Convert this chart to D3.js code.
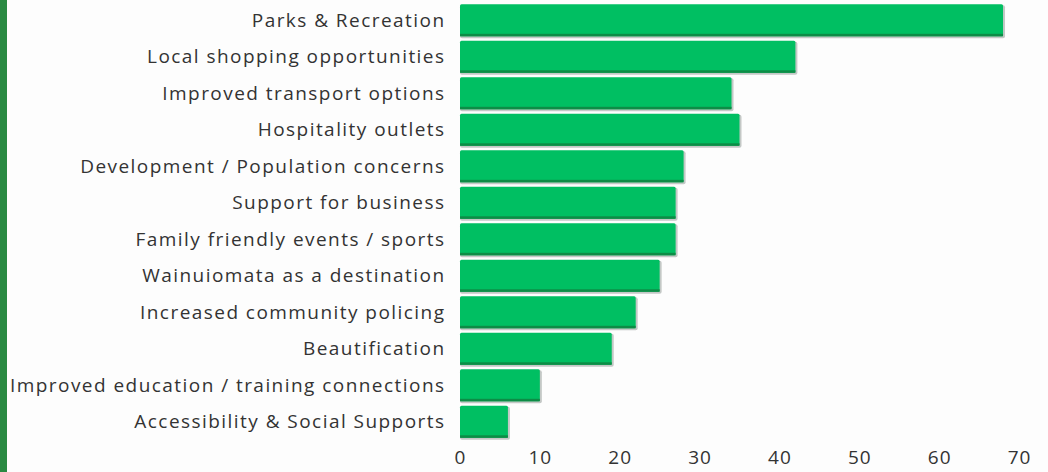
<!DOCTYPE html>
<html><head><meta charset="utf-8">
<script src="https://cdn.jsdelivr.net/npm/d3@7"></script>
<style>
html,body{margin:0;padding:0;background:#fdfdfd;}
svg{display:block;}
</style></head>
<body>
<svg id="chart" width="1048" height="472"></svg>
<script>
const categories = [
  "Parks & Recreation",
  "Local shopping opportunities",
  "Improved transport options",
  "Hospitality outlets",
  "Development / Population concerns",
  "Support for business",
  "Family friendly events / sports",
  "Wainuiomata as a destination",
  "Increased community policing",
  "Beautification",
  "Improved education / training connections",
  "Accessibility & Social Supports"
];
const values = [68, 42, 34, 35, 28, 27, 27, 25, 22, 19, 10, 6];
const tickValues = [0, 10, 20, 30, 40, 50, 60, 70];

const svg = d3.select("#chart");
svg.append("rect").attr("x",0).attr("y",0).attr("width",1048).attr("height",472).attr("fill","#fdfdfd");
svg.append("rect").attr("x",0).attr("y",0).attr("width",7).attr("height",472).attr("fill","#2a8a42");

const x = d3.scaleLinear().domain([0,70]).range([460,1019]);
const y = d3.scaleBand().domain(categories).range([2,440]).paddingInner(0.12).paddingOuter(0.06);

const g = svg.append("g");
const bars = g.selectAll("g.bar").data(categories).enter().append("g").attr("class","bar");
bars.append("rect")
  .attr("x", d => x(0))
  .attr("y", d => y(d) + 1)
  .attr("width", (d,i) => x(values[i]) - x(0) + 2)
  .attr("height", y.bandwidth() + 1)
  .attr("rx", 2)
  .attr("fill", "#c4c8c6");
bars.append("rect")
  .attr("x", d => x(0))
  .attr("y", d => y(d))
  .attr("width", (d,i) => x(values[i]) - x(0))
  .attr("height", y.bandwidth())
  .attr("rx", 1.5)
  .attr("fill", "#00bf62");
bars.append("rect")
  .attr("x", d => x(0))
  .attr("y", d => y(d) + y.bandwidth() - 2.5)
  .attr("width", (d,i) => x(values[i]) - x(0))
  .attr("height", 2.5)
  .attr("fill", "#0d8c46");

const labelFont = "'Open Sans', sans-serif";
g.selectAll("text.cat").data(categories).enter().append("text")
  .attr("class","cat")
  .attr("x", 445.5)
  .attr("y", d => y(d) + y.bandwidth()/2)
  .attr("dy","0.35em")
  .attr("text-anchor","end")
  .attr("font-family", labelFont)
  .attr("font-size", 19)
  .attr("letter-spacing", 1.45)
  .attr("fill","#333333")
  .text(d => d);

const axis = d3.axisBottom(x).tickValues(tickValues).tickSize(0).tickPadding(0);
const ax = svg.append("g").attr("transform","translate(0,450)").call(axis);
ax.select(".domain").remove();
ax.selectAll("text")
  .attr("font-family", labelFont)
  .attr("font-size", 19)
  .attr("letter-spacing", 1)
  .attr("fill","#333333")
  .attr("dy","0.71em");
</script>
</body></html>
